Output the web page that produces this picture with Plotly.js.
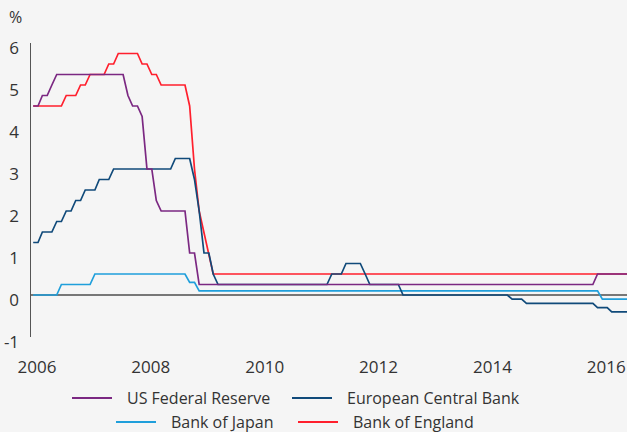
<!DOCTYPE html>
<html>
<head>
<meta charset="utf-8">
<script src="https://cdn.plot.ly/plotly-3.0.1.min.js"></script>
<style>
html,body{margin:0;padding:0;background:#f5f5f5;}
#chart{width:627px;height:432px;}
</style>
</head>
<body>
<div id="chart"></div>
<script>
// Monthly observations, January 2006 to July 2016 (one value per month, plotted mid-month)
const startYear = 2006;
const monthCount = 127;
const months = [];
for (let i = 0; i < monthCount; i++) {
  const y = startYear + Math.floor(i / 12);
  const m = (i % 12) + 1;
  months.push(y + '-' + String(m).padStart(2, '0') + '-15');
}

const seriesNames = ['US Federal Reserve', 'European Central Bank', 'Bank of Japan', 'Bank of England'];

const fedRate = [
  4.5,4.5,4.75,4.75,5.0,5.25,5.25,5.25,5.25,5.25,5.25,5.25,          // 2006
  5.25,5.25,5.25,5.25,5.25,5.25,5.25,5.25,4.75,4.5,4.5,4.25,         // 2007
  3.0,3.0,2.25,2.0,2.0,2.0,2.0,2.0,2.0,1.0,1.0,0.25,                 // 2008
  0.25,0.25,0.25,0.25,0.25,0.25,0.25,0.25,0.25,0.25,0.25,0.25,       // 2009
  0.25,0.25,0.25,0.25,0.25,0.25,0.25,0.25,0.25,0.25,0.25,0.25,       // 2010
  0.25,0.25,0.25,0.25,0.25,0.25,0.25,0.25,0.25,0.25,0.25,0.25,       // 2011
  0.25,0.25,0.25,0.25,0.25,0.25,0.25,0.25,0.25,0.25,0.25,0.25,       // 2012
  0.25,0.25,0.25,0.25,0.25,0.25,0.25,0.25,0.25,0.25,0.25,0.25,       // 2013
  0.25,0.25,0.25,0.25,0.25,0.25,0.25,0.25,0.25,0.25,0.25,0.25,       // 2014
  0.25,0.25,0.25,0.25,0.25,0.25,0.25,0.25,0.25,0.25,0.25,0.5,        // 2015
  0.5,0.5,0.5,0.5,0.5,0.5,0.5                                        // 2016
];

const ecbRate = [
  1.25,1.25,1.5,1.5,1.5,1.75,1.75,2.0,2.0,2.25,2.25,2.5,             // 2006
  2.5,2.5,2.75,2.75,2.75,3.0,3.0,3.0,3.0,3.0,3.0,3.0,                // 2007
  3.0,3.0,3.0,3.0,3.0,3.0,3.25,3.25,3.25,3.25,2.75,2.0,              // 2008
  1.0,1.0,0.5,0.25,0.25,0.25,0.25,0.25,0.25,0.25,0.25,0.25,          // 2009
  0.25,0.25,0.25,0.25,0.25,0.25,0.25,0.25,0.25,0.25,0.25,0.25,       // 2010
  0.25,0.25,0.25,0.5,0.5,0.5,0.75,0.75,0.75,0.75,0.5,0.25,           // 2011
  0.25,0.25,0.25,0.25,0.25,0.25,0,0,0,0,0,0,                         // 2012
  0,0,0,0,0,0,0,0,0,0,0,0,                                           // 2013
  0,0,0,0,0,-0.1,-0.1,-0.1,-0.2,-0.2,-0.2,-0.2,                      // 2014
  -0.2,-0.2,-0.2,-0.2,-0.2,-0.2,-0.2,-0.2,-0.2,-0.2,-0.2,-0.3,       // 2015
  -0.3,-0.3,-0.4,-0.4,-0.4,-0.4,-0.4                                 // 2016
];

const bojRate = [
  0,0,0,0,0,0,0.25,0.25,0.25,0.25,0.25,0.25,                         // 2006
  0.25,0.5,0.5,0.5,0.5,0.5,0.5,0.5,0.5,0.5,0.5,0.5,                  // 2007
  0.5,0.5,0.5,0.5,0.5,0.5,0.5,0.5,0.5,0.3,0.3,0.1,                   // 2008
  0.1,0.1,0.1,0.1,0.1,0.1,0.1,0.1,0.1,0.1,0.1,0.1,                   // 2009
  0.1,0.1,0.1,0.1,0.1,0.1,0.1,0.1,0.1,0.1,0.1,0.1,                   // 2010
  0.1,0.1,0.1,0.1,0.1,0.1,0.1,0.1,0.1,0.1,0.1,0.1,                   // 2011
  0.1,0.1,0.1,0.1,0.1,0.1,0.1,0.1,0.1,0.1,0.1,0.1,                   // 2012
  0.1,0.1,0.1,0.1,0.1,0.1,0.1,0.1,0.1,0.1,0.1,0.1,                   // 2013
  0.1,0.1,0.1,0.1,0.1,0.1,0.1,0.1,0.1,0.1,0.1,0.1,                   // 2014
  0.1,0.1,0.1,0.1,0.1,0.1,0.1,0.1,0.1,0.1,0.1,0.1,                   // 2015
  -0.1,-0.1,-0.1,-0.1,-0.1,-0.1,-0.1                                 // 2016
];

const boeRate = [
  4.5,4.5,4.5,4.5,4.5,4.5,4.5,4.75,4.75,4.75,5.0,5.0,                // 2006
  5.25,5.25,5.25,5.25,5.5,5.5,5.75,5.75,5.75,5.75,5.75,5.5,          // 2007
  5.5,5.25,5.25,5.0,5.0,5.0,5.0,5.0,5.0,4.5,3.0,2.0,                 // 2008
  1.5,1.0,0.5,0.5,0.5,0.5,0.5,0.5,0.5,0.5,0.5,0.5,                   // 2009
  0.5,0.5,0.5,0.5,0.5,0.5,0.5,0.5,0.5,0.5,0.5,0.5,                   // 2010
  0.5,0.5,0.5,0.5,0.5,0.5,0.5,0.5,0.5,0.5,0.5,0.5,                   // 2011
  0.5,0.5,0.5,0.5,0.5,0.5,0.5,0.5,0.5,0.5,0.5,0.5,                   // 2012
  0.5,0.5,0.5,0.5,0.5,0.5,0.5,0.5,0.5,0.5,0.5,0.5,                   // 2013
  0.5,0.5,0.5,0.5,0.5,0.5,0.5,0.5,0.5,0.5,0.5,0.5,                   // 2014
  0.5,0.5,0.5,0.5,0.5,0.5,0.5,0.5,0.5,0.5,0.5,0.5,                   // 2015
  0.5,0.5,0.5,0.5,0.5,0.5,0.5                                        // 2016
];

const xTickVals = ['2006-01-01','2008-01-01','2010-01-01','2012-01-01','2014-01-01','2016-01-01'];
const xTickText = ['2006','2008','2010','2012','2014','2016'];
const yTickVals = [-1,0,1,2,3,4,5,6];
const yTickText = ['-1','0','1','2','3','4','5','6'];

const colors = {
  fed: '#7b2882',
  ecb: '#104a7a',
  boj: '#1f9fdb',
  boe: '#ff1f2d'
};

const FONT = '"Open Sans", "Noto Sans", sans-serif';
const lw = 1.7;

const traces = [
  {x: months, y: boeRate, name: seriesNames[3], type: 'scatter', mode: 'lines',
   line: {color: colors.boe, width: lw}, showlegend: false},
  {x: months, y: bojRate, name: seriesNames[2], type: 'scatter', mode: 'lines',
   line: {color: colors.boj, width: lw}, showlegend: false},
  {x: months, y: ecbRate, name: seriesNames[1], type: 'scatter', mode: 'lines',
   line: {color: colors.ecb, width: lw}, showlegend: false},
  {x: months, y: fedRate, name: seriesNames[0], type: 'scatter', mode: 'lines',
   line: {color: colors.fed, width: lw}, showlegend: false}
];

// Legend drawn as key lines + labels (pixel layout of the figure)
const W = 627, H = 432, ML = 31, MT = 43, MB = 95;
const PW = W - ML, PH = H - MT - MB;
const px = v => (v - ML) / PW;
const py = v => (H - MB - v) / PH;

const legendItems = [
  {name: seriesNames[0], color: colors.fed, x0: 72, tx: 125, y: 398},
  {name: seriesNames[1], color: colors.ecb, x0: 292, tx: 345, y: 398},
  {name: seriesNames[2], color: colors.boj, x0: 116, tx: 169, y: 422},
  {name: seriesNames[3], color: colors.boe, x0: 298, tx: 351, y: 422}
];

const shapes = legendItems.map(it => ({
  type: 'line', xref: 'paper', yref: 'paper',
  x0: px(it.x0), x1: px(it.x0 + 40), y0: py(it.y), y1: py(it.y),
  line: {color: it.color, width: 2}
}));

const annotations = legendItems.map(it => ({
  text: it.name, xref: 'paper', yref: 'paper', showarrow: false,
  x: px(it.tx), y: py(it.y), xanchor: 'left', yanchor: 'middle',
  font: {family: FONT, size: 16, color: '#333333'}
}));

annotations.push({
  text: '%', xref: 'paper', yref: 'paper', showarrow: false,
  x: 0, xshift: -16, y: 1, yshift: 26, xanchor: 'center', yanchor: 'middle',
  font: {family: FONT, size: 16, color: '#333333'}
});

const layout = {
  width: W, height: H,
  paper_bgcolor: '#f5f5f5',
  plot_bgcolor: '#f5f5f5',
  margin: {l: ML, r: 0, t: MT, b: MB, pad: 0},
  font: {family: FONT, color: '#333333'},
  showlegend: false,
  xaxis: {
    type: 'date',
    range: ['2006-01-01', '2016-06-21'],
    tickmode: 'array', tickvals: xTickVals, ticktext: xTickText,
    showgrid: false, zeroline: false, showline: false, ticks: '',
    tickfont: {family: FONT, size: 17, color: '#333333'},
    ticklabelshift: 6, ticklabelstandoff: 18
  },
  yaxis: {
    range: [-1, 6],
    tickmode: 'array', tickvals: yTickVals, ticktext: yTickText,
    showgrid: false,
    zeroline: true, zerolinecolor: '#777777', zerolinewidth: 1.5,
    showline: true, linecolor: '#555555', linewidth: 1.5,
    ticks: '',
    tickfont: {family: FONT, size: 17, color: '#333333'},
    ticklabelshift: 5, ticklabelstandoff: 7
  },
  shapes: shapes,
  annotations: annotations
};

Plotly.newPlot('chart', traces, layout, {displayModeBar: false, staticPlot: true});
</script>
</body>
</html>
